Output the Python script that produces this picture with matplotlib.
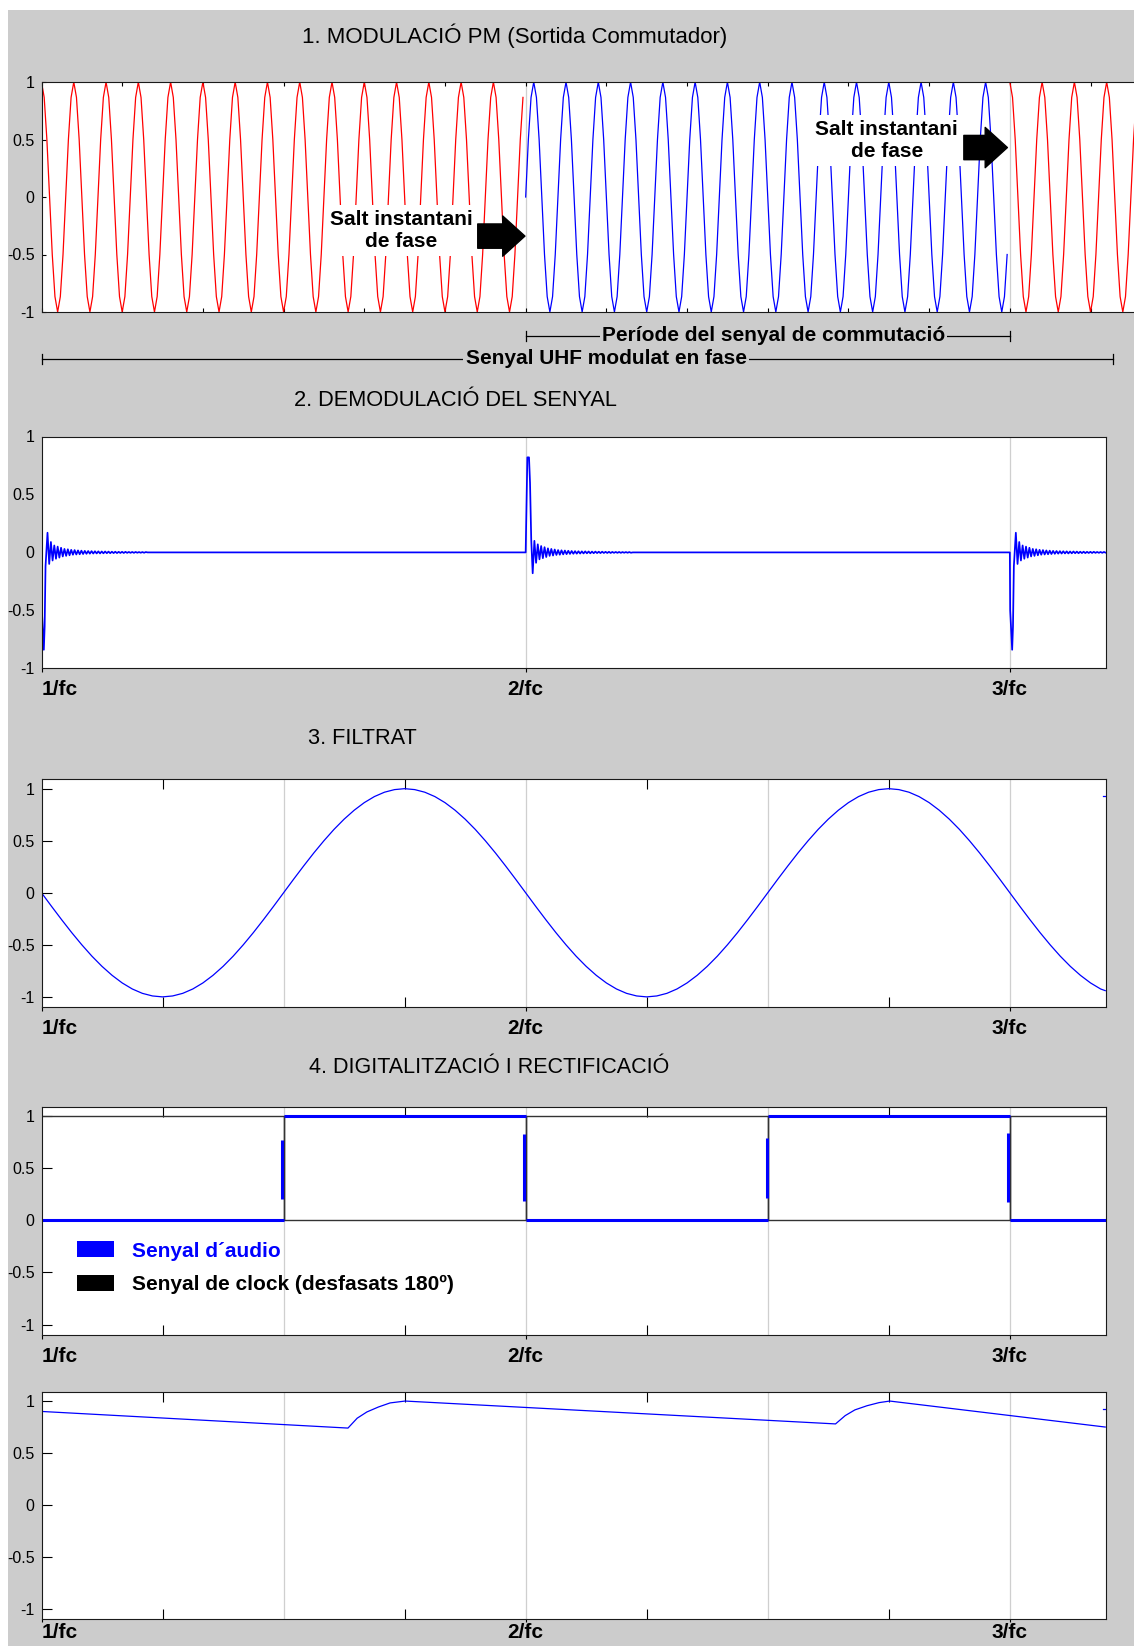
import matplotlib.pyplot as plt
import numpy as np
from matplotlib.patches import Patch, Rectangle
from matplotlib.transforms import blended_transform_factory

plt.rcParams['font.family'] = ['Liberation Sans', 'DejaVu Sans']
plt.rcParams['axes.unicode_minus'] = False

# ---------------- data (x axis in units of 1/fc) ----------------
# 1. PM carrier: one sampled cycle, 15 carrier cycles per switching period
carrier_cycle = [1.0, 0.866, 0.5, 0.0, -0.5, -0.866, -1.0, -0.866, -0.5, 0.0, 0.5, 0.866]
carrier_cycles_per_period = 15
pm_edges = [1.0, 2.0, 3.0, 3.3]
pm_colors = ['#ff0000', '#0000ff', '#ff0000']
pm_start_sample = [0, 9, 0]          # blue part starts 90 deg shifted

# 2. demodulated signal: spikes + ringing at each switching instant
burst_times = [1.0, 2.0, 3.0]
burst_sign = [-1, 1, -1]
spike_down_dx = [0.0, 0.0007, 0.0048, 0.0065, 0.0083, 0.0124]
spike_down_y = [0.0, -0.50, -0.84, -0.64, -0.12, 0.17]
spike_up_dx = [0.0, 0.002, 0.0035, 0.0069, 0.009, 0.0115, 0.0145]
spike_up_y = [0.0, 0.47, 0.82, 0.82, 0.60, 0.11, -0.18]
ring_step = 0.0035
ring_tail = [-0.10, 0.09, -0.07, 0.06, -0.055, 0.05, -0.045, 0.04, -0.035, 0.03,
             -0.03, 0.027, -0.025, 0.022, -0.02, 0.02, -0.018, 0.017, -0.016, 0.015,
             -0.014, 0.013, -0.012, 0.012, -0.011, 0.011, -0.010, 0.010, -0.009, 0.009,
             -0.009, 0.008, -0.008, 0.008, -0.007, 0.007, -0.007, 0.006, -0.006, 0.006,
             -0.006, 0.005, -0.005, 0.005, -0.005, 0.005, -0.004, 0.004, -0.004, 0.004,
             -0.004, 0.004, -0.003, 0.003, -0.003, 0.003, -0.003, 0.003]

# 3. filtered audio: one period read every 1/48, repeated; last point at the edge
filt_period = [0.0, -0.131, -0.259, -0.383, -0.5, -0.609, -0.707, -0.793, -0.866, -0.924,
               -0.966, -0.991, -1.0, -0.991, -0.966, -0.924, -0.866, -0.793, -0.707, -0.609,
               -0.5, -0.383, -0.259, -0.131, 0.0, 0.131, 0.259, 0.383, 0.5, 0.609,
               0.707, 0.793, 0.866, 0.924, 0.966, 0.991, 1.0, 0.991, 0.966, 0.924,
               0.866, 0.793, 0.707, 0.609, 0.5, 0.383, 0.259, 0.131]
filt_y = filt_period + filt_period + filt_period[:10] + [-0.94]
filt_x = np.append(1 + np.arange(106) / 48, 3.197)

# 4. digitised audio and the two clocks
clock_x = [1.0, 1.5, 1.5, 2.0, 2.0, 2.5, 2.5, 3.0, 3.0, 3.2]
clock_a = [0, 0, 1, 1, 0, 0, 1, 1, 0, 0]
clock_b = [1, 1, 0, 0, 1, 1, 0, 0, 1, 1]
audio_x = [1.0, 1.5, np.nan, 1.5, 2.0, np.nan, 2.0, 2.5, np.nan, 2.5, 3.0, np.nan, 3.0, 3.2]
audio_y = [0, 0, np.nan, 1, 1, np.nan, 0, 0, np.nan, 1, 1, np.nan, 0, 0]
edge_x = [1.4975, 1.9975, 2.4975, 2.9965]
edge_lo = [0.20, 0.19, 0.21, 0.18]
edge_hi = [0.77, 0.83, 0.79, 0.84]

# 5. rectified / held output
held_x = [1.0, 1.633, 1.652, 1.672, 1.696, 1.72, 1.751, 2.64, 2.66, 2.68, 2.705, 2.73, 2.752, 3.197]
held_y = [0.90, 0.74, 0.835, 0.895, 0.943, 0.982, 1.0, 0.78, 0.86, 0.915, 0.955, 0.985, 1.0, 0.75]

ytick_vals = [-1, -0.5, 0, 0.5, 1]
ytick_labels = ['-1', '-0.5', '0', '0.5', '1']
xtick_vals = [1, 2, 3]
xtick_labels = ['1/fc', '2/fc', '3/fc']

# ---------------- figure ----------------
W, H = 1134, 1646
fig = plt.figure(figsize=(W / 100, H / 100), dpi=100, facecolor='#cccccc')


def add_panel(left, top, right, bottom):
    return fig.add_axes([left / W, 1 - bottom / H, (right - left) / W, (bottom - top) / H])


def style_axes(ax, xmax, ylim, tick_len, minor_len, grid_x, lab_pad=5.5, out_len=3):
    ax.set_xlim(1, xmax)
    ax.set_ylim(*ylim)
    for s in ax.spines.values():
        s.set_linewidth(0.8)
        s.set_color('#1a1a1a')
    for g in grid_x:
        ax.axvline(g, color='#cfcfcf', lw=0.9, zorder=0.5)
    ax.set_yticks(ytick_vals, labels=ytick_labels, fontsize=11.5)
    ax.tick_params(axis='y', direction='in', length=tick_len, width=0.8, pad=5,
                   left=True, right=False)
    ax.set_xticks(xtick_vals, labels=xtick_labels, fontsize=15, fontweight='bold')
    ax.get_xticklabels()[0].set_horizontalalignment('left')
    ax.set_xticks([1.25, 1.75, 2.25, 2.75], minor=True)
    ax.tick_params(axis='x', which='major', direction='out', length=out_len, width=0.8,
                   pad=lab_pad, bottom=True, top=False)
    ax.tick_params(axis='x', which='minor', direction='in', length=minor_len, width=0.8,
                   bottom=True, top=True)


xr = 3.198
x_unit = (1105.7 - 41.5) / (xr - 1)

# panel 1
ax1 = add_panel(41.5, 82, 41.5 + 2.3 * x_unit, 312)
ax1.set_xlim(1, 3.3)
ax1.set_ylim(-1, 1)
for s in ax1.spines.values():
    s.set_linewidth(0.8)
    s.set_color('#1a1a1a')
for g in [2, 3]:
    ax1.axvline(g, color='#cfcfcf', lw=0.9, zorder=0.5)
ax1.set_xticks(np.arange(1, 3.31, 1 / 6))
ax1.tick_params(axis='x', direction='in', length=3, width=0.8, top=True, bottom=True,
                labelbottom=False)
ax1.set_yticks(ytick_vals, labels=ytick_labels, fontsize=11.5)
ax1.tick_params(axis='y', direction='in', length=3, width=0.8, pad=5)

spp = len(carrier_cycle) * carrier_cycles_per_period
cyc = np.array(carrier_cycle)
for x0, x1, col, ph in zip(pm_edges[:-1], pm_edges[1:], pm_colors, pm_start_sample):
    n = int(round((x1 - x0) * spp))
    idx = (np.arange(n) + ph) % len(carrier_cycle)
    ax1.plot(x0 + np.arange(n) / spp, cyc[idx], color=col, lw=0.9)

txt_kw = dict(ha='center', va='center', fontsize=15, fontweight='bold', zorder=5,
              bbox=dict(boxstyle='square,pad=0.25', fc='white', ec='none'))
ax1.text(1.743, -0.29, 'Salt instantani\nde fase', **txt_kw)
ax1.text(2.746, 0.49, 'Salt instantani\nde fase', **txt_kw)
arrow_kw = dict(arrowstyle='simple,head_width=2.9,head_length=1.6,tail_width=1.75',
                fc='black', ec='black', shrinkA=0, shrinkB=0, mutation_scale=10)
ax1.annotate('', xy=(1.9985, -0.34), xytext=(1.901, -0.34), arrowprops=arrow_kw, zorder=6)
ax1.annotate('', xy=(2.995, 0.43), xytext=(2.905, 0.43), arrowprops=arrow_kw, zorder=6)

# dimension lines under panel 1
trans = blended_transform_factory(ax1.transData, ax1.transAxes)


def dim_line(xa, xb, y, label, xt):
    ax1.plot([xa, xb], [y, y], transform=trans, color='black', lw=0.9, clip_on=False)
    for xe in (xa, xb):
        ax1.plot([xe, xe], [y - 0.022, y + 0.022], transform=trans, color='black',
                 lw=0.9, clip_on=False)
    ax1.text(xt, y, label, transform=trans, ha='center', va='center', fontsize=15,
             fontweight='bold', bbox=dict(boxstyle='square,pad=0.1', fc='#cccccc', ec='none'))


dim_line(2.0, 3.0, -0.103, 'Període del senyal de commutació', 2.512)
dim_line(1.0, 3.214, -0.204, 'Senyal UHF modulat en fase', 2.166)

# panel 2
ax2 = add_panel(41.5, 436.5, 1105.7, 668.3)
style_axes(ax2, xr, (-1, 1), 0, 0, [2, 3])
dem_x, dem_y = [], []
for t0, sgn in zip(burst_times, burst_sign):
    dx, yy = (spike_down_dx, spike_down_y) if sgn < 0 else (spike_up_dx, spike_up_y)
    tail = ring_tail if sgn < 0 else [-v for v in ring_tail]
    dem_x += [t0 + d for d in dx]
    dem_y += list(yy)
    for k, v in enumerate(tail, start=1):
        dem_x.append(t0 + dx[-1] + k * ring_step)
        dem_y.append(v)
    dem_x.append(t0 + dx[-1] + (len(tail) + 1) * ring_step)
    dem_y.append(0.0)
ax2.plot(dem_x, dem_y, color='#0000ff', lw=1.25)

# panel 3
ax3 = add_panel(41.5, 779.3, 1105.7, 1007.3)
style_axes(ax3, xr, (-1.1, 1.09), 7, 7, [1.5, 2, 2.5, 3])
ax3.plot(filt_x, filt_y, color='#0000ff', lw=0.9)
ax3.plot([3.193, 3.198], [0.93, 0.93], color='#0000ff', lw=0.9)

# panel 4
ax4 = add_panel(41.5, 1106.7, 1105.7, 1335)
style_axes(ax4, xr, (-1.1, 1.09), 7, 7, [1.5, 2, 2.5, 3])
ax4.plot(clock_x, clock_a, color='#333333', lw=1.0)
ax4.plot(clock_x, clock_b, color='#333333', lw=1.0)
ax4.plot(audio_x, audio_y, color='#0000ff', lw=2.2, solid_capstyle='butt')
ax4.vlines(edge_x, edge_lo, edge_hi, color='#0000ff', lw=2.2)
handles = [Patch(facecolor='#0000ff', edgecolor='none', label='Senyal d´audio'),
           Patch(facecolor='black', edgecolor='none', label='Senyal de clock (desfasats 180º)')]
leg = ax4.legend(handles=handles, loc='upper left', bbox_to_anchor=(0.033, 0.41),
                 frameon=False, prop=dict(weight='bold', size=15), handlelength=1.8,
                 handleheight=0.8, handletextpad=0.85, labelspacing=0.68,
                 borderpad=0, borderaxespad=0)
leg.get_texts()[0].set_color('#0000ff')

# panel 5 (labels kept a little closer so they stay inside the picture)
ax5 = add_panel(41.5, 1391.7, 1105.7, 1619.3)
style_axes(ax5, xr, (-1.1, 1.09), 7, 7, [1.5, 2, 2.5, 3], lab_pad=0.8, out_len=2)
ax5.plot(held_x, held_y, color='#0000ff', lw=0.9)
ax5.plot([3.193, 3.198], [0.92, 0.92], color='#0000ff', lw=0.9)

# titles
titles = [(302, 42.7, '1. MODULACIÓ PM (Sortida Commutador)', 16),
          (294, 406, '2. DEMODULACIÓ DEL SENYAL', 15.7),
          (308, 744.5, '3. FILTRAT', 15.7),
          (309, 1073.3, '4. DIGITALITZACIÓ I RECTIFICACIÓ', 15.5)]
for x, y, t, fs in titles:
    fig.text(x / W, 1 - y / H, t, ha='left', va='baseline', fontsize=fs)

# thin white border at left and top
fig.add_artist(Rectangle((0, 0), 7.6 / W, 1, transform=fig.transFigure,
                         fc='white', ec='none', zorder=10))
fig.add_artist(Rectangle((0, 1 - 10 / H), 1, 10 / H, transform=fig.transFigure,
                         fc='white', ec='none', zorder=10))

fig.savefig('out.png', dpi=100, facecolor=fig.get_facecolor())
